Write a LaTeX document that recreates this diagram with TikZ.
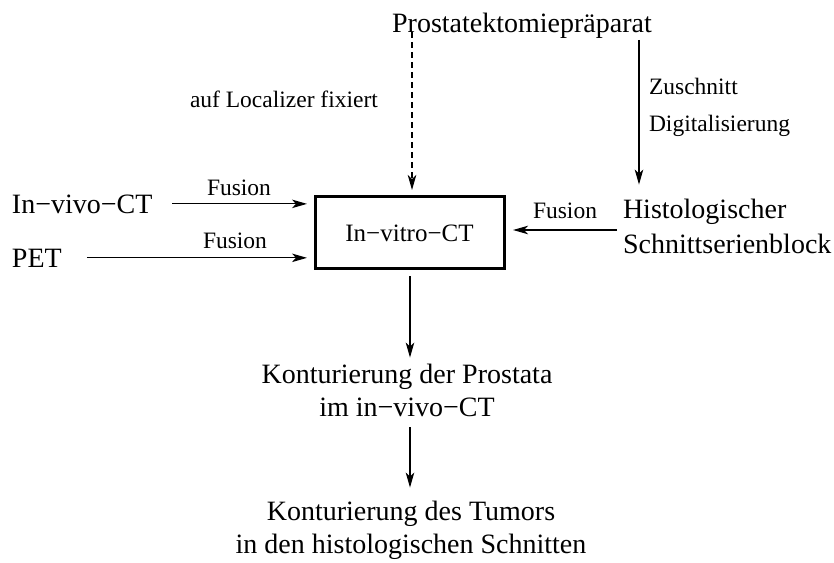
\documentclass[tikz,border=0pt]{standalone}
\usepackage{fontspec}
\setmainfont{Liberation Serif}
\usetikzlibrary{arrows.meta}
\tikzset{
  big/.style={font=\fontsize{28}{34}\selectfont, inner sep=0pt, outer sep=0pt},
  mid/.style={font=\fontsize{25}{30}\selectfont, inner sep=0pt},
  small/.style={font=\fontsize{23.5}{28}\selectfont, inner sep=0pt, outer sep=0pt},
  arr/.style={-{Stealth[length=15pt,width=8.5pt,inset=4pt]}, line width=1.2pt},
  mainbox/.style={draw, line width=3pt, minimum width=189pt, minimum height=72pt, inner sep=0pt}
}
\begin{document}
\begin{tikzpicture}[x=1pt,y=-1pt]
\useasboundingbox (0,0) rectangle (834,562);
% nodes
\node[big, anchor=base] (pros) at (522,32) {Prostatektomiepräparat};
\node[mainbox] (box) at (410,232.5) {};
\node[mid, anchor=base] (boxtext) at (409.5,241) {In−vitro−CT};
\node[big, anchor=base west] (invivo) at (12,213) {In−vivo−CT};
\node[big, anchor=base west] (pet) at (12,267) {PET};
\node[big, anchor=base west, align=left, font=\fontsize{28}{35}\selectfont] (hist) at (623,253) {Histologischer\\Schnittserienblock};
\node[big, anchor=base, align=center, font=\fontsize{28}{33}\selectfont] (kont1) at (407,416) {Konturierung der Prostata\\im in−vivo−CT};
\node[big, anchor=base, align=center, font=\fontsize{28}{33}\selectfont] (kont2) at (411,553) {Konturierung des Tumors\\in den histologischen Schnitten};
% labels
\node[small, anchor=base west] (lfix) at (190,107) {auf Localizer fixiert};
\node[small, anchor=base west] (lzu) at (649,94) {Zuschnitt};
\node[small, anchor=base west] (ldig) at (649,131.5) {Digitalisierung};
\node[small, anchor=base west] (lf1) at (207,195) {Fusion};
\node[small, anchor=base west] (lf2) at (203,248) {Fusion};
\node[small, anchor=base west] (lf3) at (533,218) {Fusion};
% connectors
\coordinate (zx) at ([xshift=16pt]hist.north west);
\draw[arr, shorten <=2pt, shorten >=14pt] (zx |- pros.south) -- (zx);
\draw[arr, dashed, dash pattern=on 6pt off 4pt, shorten >=5pt] ([xshift=2pt]box.north |- pros.base) -- ([xshift=2pt]box.north);
\draw[arr, shorten <=20pt, shorten >=7pt] (invivo.east) -- (invivo.east -| box.west);
\draw[arr, shorten <=25pt, shorten >=7pt] (pet.east) -- (pet.east -| box.west);
\draw[arr, shorten <=6pt, shorten >=7pt] ([yshift=2.5pt]box.east -| hist.west) -- ([yshift=2.5pt]box.east);
\draw[arr, shorten <=6pt, shorten >=6pt] (box.south) -- (box.south |- kont1.north);
\draw[arr, shorten <=11pt, shorten >=13pt] (kont1.south -| box.south) -- (kont2.north -| box.south);
\end{tikzpicture}
\end{document}
